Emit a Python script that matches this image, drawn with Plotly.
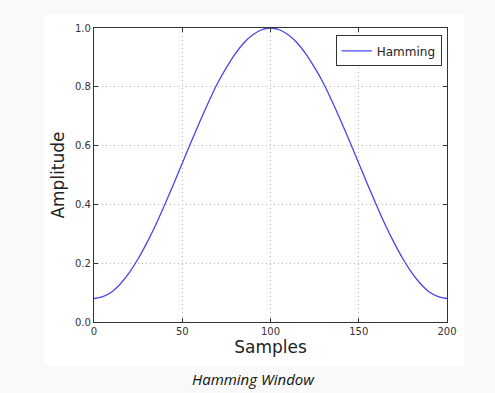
import plotly.graph_objects as go

samples = [0, 5, 10, 15, 20, 25, 30, 35, 40, 45, 50, 55, 60, 65, 70, 75, 80, 85, 90, 95, 100,
           105, 110, 115, 120, 125, 130, 135, 140, 145, 150, 155, 160, 165, 170, 175, 180, 185, 190, 195, 200]
amplitude = [0.080, 0.086, 0.102, 0.130, 0.168, 0.215, 0.270, 0.331, 0.398, 0.468, 0.540,
             0.612, 0.682, 0.749, 0.812, 0.865, 0.912, 0.950, 0.977, 0.994, 1.000,
             0.994, 0.977, 0.950, 0.912, 0.865, 0.812, 0.749, 0.682, 0.612, 0.540,
             0.468, 0.398, 0.331, 0.270, 0.215, 0.168, 0.130, 0.102, 0.086, 0.080]
x_ticks = [0, 50, 100, 150, 200]
y_ticks = [0.0, 0.2, 0.4, 0.6, 0.8, 1.0]
y_tick_labels = ["0.0", "0.2", "0.4", "0.6", "0.8", "1.0"]

fig = go.Figure()
fig.add_trace(go.Scatter(x=samples, y=amplitude, mode="lines", name="Hamming",
                         line=dict(color="#4646f0", width=1.3, shape="spline", smoothing=1.0)))

W, H = 495, 393
ml, mr, mt, mb = 94, 48, 28, 71

def px(xp):
    return (xp - ml) / (W - ml - mr)

def py(yp):
    return (H - mb - yp) / (H - mt - mb)

axis_common = dict(showline=True, linecolor="#333333", linewidth=1.2, mirror="ticks",
                   ticks="inside", ticklen=4, tickcolor="#333333", showgrid=True,
                   gridcolor="#b8b8b8", griddash="1px,3px", gridwidth=1, zeroline=False,
                   tickfont=dict(family="DejaVu Sans", size=10, color="#333333"))

fig.update_xaxes(range=[0, 200], tickvals=x_ticks, ticktext=[str(v) for v in x_ticks],
                 title=dict(text="Samples", font=dict(family="DejaVu Sans", size=17, color="#222222"), standoff=4),
                 **axis_common)
fig.update_yaxes(range=[0, 1.0], tickvals=y_ticks, ticktext=y_tick_labels,
                 title=dict(text="Amplitude", font=dict(family="DejaVu Sans", size=17, color="#222222"), standoff=6),
                 **axis_common)

fig.add_shape(type="rect", xref="paper", yref="paper", x0=px(44), x1=px(464), y0=py(366), y1=py(15),
              fillcolor="white", line=dict(width=0), layer="below")

fig.add_annotation(text="<i>Hamming Window</i>", xref="paper", yref="paper", x=px(253), y=py(379),
                   showarrow=False, font=dict(family="Open Sans", size=15, color="#111111"),
                   xanchor="center", yanchor="middle")

fig.update_layout(width=W, height=H, margin=dict(l=ml, r=mr, t=mt, b=mb),
                  paper_bgcolor="#f9f9f9", plot_bgcolor="white",
                  legend=dict(x=0.985, y=0.975, xanchor="right", yanchor="top",
                              bgcolor="white", bordercolor="#333333", borderwidth=1,
                              font=dict(family="DejaVu Sans", size=12, color="#222222")),
                  showlegend=True)

fig.write_html("out.html", config={"displayModeBar": False},
               post_script="document.body.style.margin='0';document.body.style.background='#f9f9f9';document.body.style.overflow='hidden';")
